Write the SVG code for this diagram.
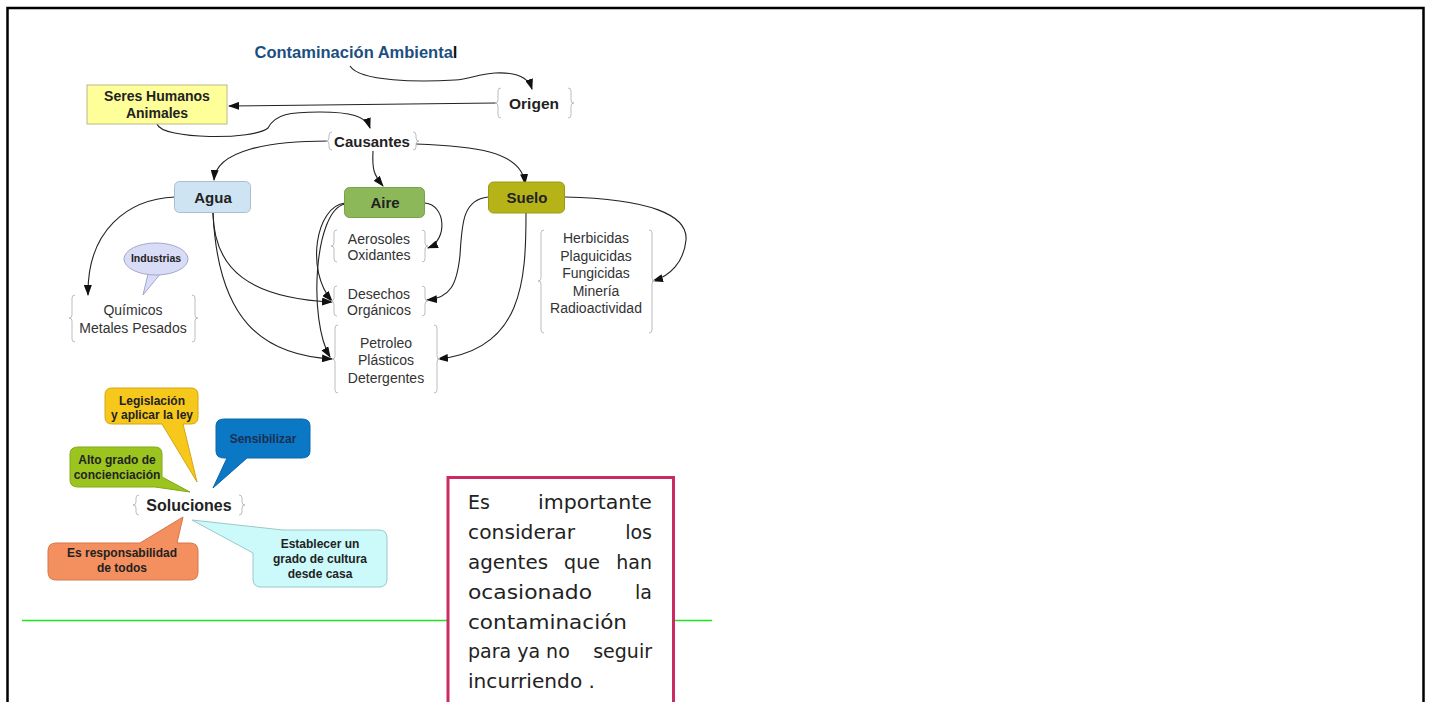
<svg xmlns="http://www.w3.org/2000/svg" width="1429" height="702" viewBox="0 0 1429 702">
<defs>
<marker id="ah" markerWidth="11" markerHeight="8" refX="10" refY="4" orient="auto" markerUnits="userSpaceOnUse">
<path d="M0,0 L11,4 L0,8 z" fill="#111"/>
</marker>
<style>
.c{fill:none;stroke:#222;stroke-width:1.1;marker-end:url(#ah)}
.br{fill:none;stroke:#bdbdbd;stroke-width:1}
.bt{font-family:"Liberation Sans",Arial,sans-serif;font-weight:bold;fill:#222;text-anchor:middle}
.rt{font-family:"Liberation Sans",Arial,sans-serif;font-size:14px;fill:#333;text-anchor:middle}
.pt{font-family:"DejaVu Sans",sans-serif;font-size:19px;fill:#222}
</style>
</defs>
<rect x="0" y="0" width="1429" height="702" fill="#fff"/>
<rect x="7.5" y="8" width="1416" height="720" fill="none" stroke="#000" stroke-width="2.5"/>
<line x1="22" y1="620.5" x2="712" y2="620.5" stroke="#1ee61e" stroke-width="1.3"/>

<g id="connectors">
<path class="c" d="M350,66 C360,82 420,82 455,80 C470,79 478,74 495,73 C515,72 528,76 532,89"/>
<path class="c" d="M496,103 L229,106"/>
<path class="c" d="M157,124 C162,140 255,140 268,128 C275,114 290,112 320,112 C350,112 366,116 370,128"/>
<path class="c" d="M328,141 C270,141 216,150 214,180"/>
<path class="c" d="M373,151 C372,170 374,175 383,186"/>
<path class="c" d="M416,144 C470,146 522,150 525,184"/>
<path class="c" d="M175,197 C128,199 87,230 88,295"/>
<path class="c" d="M213,213 C214,270 250,298 332,302"/>
<path class="c" d="M213,213 C218,320 262,355 332,359"/>
<path class="c" d="M425,203 C446,205 448,240 428,248"/>
<path class="c" d="M345,203 C316,206 305,270 332,301"/>
<path class="c" d="M345,204 C314,210 308,320 330,357"/>
<path class="c" d="M488,197 C462,200 462,225 460,255 C457,285 450,298 427,300"/>
<path class="c" d="M526,213 C526,280 523,350 438,359"/>
<path class="c" d="M565,197 C650,199 688,215 686,240 C684,262 670,276 653,281"/>
</g>

<g id="title"><text x="356" y="58" class="bt" style="font-size:16.5px;fill:#1c4f80">Contaminación Ambienta<tspan fill="#111">l</tspan></text></g>

<g id="seres">
<rect x="87" y="85" width="140" height="39" fill="#ffff99" stroke="#b8b88a" stroke-width="1"/>
<text x="157" y="101" class="bt" style="font-size:14px">Seres Humanos</text>
<text x="157" y="118" class="bt" style="font-size:14px">Animales</text>
</g>

<g id="origen">
<path class="br" d="M501,88 Q498,88 498,91 L498,100 Q498,103 495,103 Q498,103 498,106 L498,115 Q498,118 501,118"/>
<path class="br" d="M568,88 Q571,88 571,91 L571,100 Q571,103 574,103 Q571,103 571,106 L571,115 Q571,118 568,118"/>
<text x="534" y="109" class="bt" style="font-size:15.5px">Origen</text>
</g>

<g id="causantes">
<path class="br" d="M332,132 Q329,132 329,135 L329,138 Q329,141 326,141 Q329,141 329,144 L329,147 Q329,150 332,150"/>
<path class="br" d="M413,132 Q416,132 416,135 L416,138 Q416,141 419,141 Q416,141 416,144 L416,147 Q416,150 413,150"/>
<text x="372" y="147" class="bt" style="font-size:15px">Causantes</text>
</g>

<g id="agua">
<rect x="174.5" y="181.5" width="76" height="31" rx="5" fill="#cfe4f3" stroke="#a9bfd0" stroke-width="1"/>
<text x="213" y="203" class="bt" style="font-size:15px">Agua</text>
</g>

<g id="aire">
<rect x="344.5" y="187.5" width="80" height="30" rx="5" fill="#8cb85a" stroke="#79a04c" stroke-width="1"/>
<text x="385" y="208" class="bt" style="font-size:15px">Aire</text>
</g>

<g id="suelo">
<rect x="488.5" y="182" width="76" height="31" rx="5" fill="#b6b318" stroke="#9c9a14" stroke-width="1"/>
<text x="527" y="203" class="bt" style="font-size:15px">Suelo</text>
</g>

<g id="aerosoles">
<path class="br" d="M337,230 Q334,230 334,233 L334,243 Q334,246 331,246 Q334,246 334,249 L334,259 Q334,262 337,262"/>
<path class="br" d="M422,230 Q425,230 425,233 L425,243 Q425,246 428,246 Q425,246 425,249 L425,259 Q425,262 422,262"/>
<text x="379" y="244" class="rt">Aerosoles</text>
<text x="379" y="260" class="rt">Oxidantes</text>
</g>

<g id="desechos">
<path class="br" d="M337,286 Q334,286 334,289 L334,298 Q334,301 331,301 Q334,301 334,304 L334,313 Q334,316 337,316"/>
<path class="br" d="M422,286 Q425,286 425,289 L425,298 Q425,301 428,301 Q425,301 425,304 L425,313 Q425,316 422,316"/>
<text x="379" y="299" class="rt">Desechos</text>
<text x="379" y="315" class="rt">Orgánicos</text>
</g>

<g id="petroleo">
<path class="br" d="M338,325 Q335,325 335,328 L335,356 Q335,359 332,359 Q335,359 335,362 L335,390 Q335,393 338,393"/>
<path class="br" d="M434,325 Q437,325 437,328 L437,356 Q437,359 440,359 Q437,359 437,362 L437,390 Q437,393 434,393"/>
<text x="386" y="348" class="rt">Petroleo</text>
<text x="386" y="365" class="rt">Plásticos</text>
<text x="386" y="383" class="rt">Detergentes</text>
</g>

<g id="herbicidas">
<path class="br" d="M544,230 Q541,230 541,233 L541,278 Q541,281 538,281 Q541,281 541,284 L541,330 Q541,333 544,333"/>
<path class="br" d="M649,230 Q652,230 652,233 L652,278 Q652,281 655,281 Q652,281 652,284 L652,330 Q652,333 649,333"/>
<text x="596" y="243" class="rt">Herbicidas</text>
<text x="596" y="261" class="rt">Plaguicidas</text>
<text x="596" y="278" class="rt">Fungicidas</text>
<text x="596" y="296" class="rt">Minería</text>
<text x="596" y="313" class="rt">Radioactividad</text>
</g>

<g id="quimicos">
<path class="br" d="M75,295 Q72,295 72,298 L72,315 Q72,318 69,318 Q72,318 72,321 L72,339 Q72,342 75,342"/>
<path class="br" d="M192,295 Q195,295 195,298 L195,315 Q195,318 198,318 Q195,318 195,321 L195,339 Q195,342 192,342"/>
<text x="133" y="315" class="rt">Químicos</text>
<text x="133" y="333" class="rt">Metales Pesados</text>
</g>

<g id="industrias">
<path d="M148,274 L143,295 L161,273 Z" fill="#d9dcf6" stroke="#a4a8c8" stroke-width="1"/>
<ellipse cx="156" cy="259" rx="32" ry="16" fill="#d9dcf6" stroke="#a4a8c8" stroke-width="1"/>
<path d="M149,273 L160,273" stroke="#d9dcf6" stroke-width="2"/>
<text x="156" y="262" class="bt" style="font-size:10.5px">Industrias</text>
</g>

<g id="soluciones">
<path class="br" d="M139,495 Q136,495 136,498 L136,502 Q136,505 133,505 Q136,505 136,508 L136,512 Q136,515 139,515"/>
<path class="br" d="M239,495 Q242,495 242,498 L242,502 Q242,505 245,505 Q242,505 242,508 L242,512 Q242,515 239,515"/>
<text x="189" y="511" class="bt" style="font-size:16px">Soluciones</text>
</g>

<g id="legislacion">
<path d="M112,388 H191 Q198,388 198,395 V417 Q198,424 191,424 H183 L197,482 L162,424 H112 Q105,424 105,417 V395 Q105,388 112,388 Z" fill="#f6c81c" stroke="#d4a614" stroke-width="1"/>
<text x="152" y="405" class="bt" style="font-size:12px">Legislación</text>
<text x="152" y="419" class="bt" style="font-size:12px">y aplicar la ley</text>
</g>

<g id="sensibilizar">
<path d="M224,419 H302 Q310,419 310,426 V451 Q310,458 302,458 H247 L213,488 L227,458 H224 Q216,458 216,451 V426 Q216,419 224,419 Z" fill="#0b78c6" stroke="#0a66a8" stroke-width="1"/>
<text x="263" y="443" class="bt" style="font-size:12px;fill:#1b2f52">Sensibilizar</text>
</g>

<g id="alto">
<path d="M78,447 H155 Q162,447 162,454 V477 L190,492 L155,487 H78 Q70,487 70,480 V454 Q70,447 78,447 Z" fill="#9cc41e" stroke="#84a818" stroke-width="1"/>
<text x="117" y="464" class="bt" style="font-size:12px">Alto grado de</text>
<text x="117" y="479" class="bt" style="font-size:12px">concienciación</text>
</g>

<g id="responsabilidad">
<path d="M56,543 H140 L183,517 L177,543 H190 Q198,543 198,551 V572 Q198,580 190,580 H56 Q48,580 48,572 V551 Q48,543 56,543 Z" fill="#f48f5f" stroke="#d4774a" stroke-width="1"/>
<text x="122" y="557" class="bt" style="font-size:12px">Es responsabilidad</text>
<text x="122" y="572" class="bt" style="font-size:12px">de todos</text>
</g>

<g id="establecer">
<path d="M283,530 H379 Q387,530 387,538 V579 Q387,587 379,587 H261 Q253,587 253,579 V553 L192,520 Z" fill="#ccfafa" stroke="#9cc8c8" stroke-width="1"/>
<text x="320" y="548" class="bt" style="font-size:12px">Establecer un</text>
<text x="320" y="563" class="bt" style="font-size:12px">grado de cultura</text>
<text x="320" y="578" class="bt" style="font-size:12px">desde casa</text>
</g>

<g id="nota">
<rect x="448" y="477.5" width="225.5" height="240" fill="#fff" stroke="#cc2a64" stroke-width="3"/>
<text x="468" y="509" class="pt">Es</text>
<text x="538" y="509" class="pt" textLength="114" lengthAdjust="spacingAndGlyphs">importante</text>
<text x="468" y="539" class="pt" textLength="107" lengthAdjust="spacingAndGlyphs">considerar</text>
<text x="652" y="539" class="pt" text-anchor="end">los</text>
<text x="468" y="569" class="pt" textLength="80" lengthAdjust="spacingAndGlyphs">agentes</text>
<text x="582" y="569" class="pt" text-anchor="middle">que</text>
<text x="652" y="569" class="pt" text-anchor="end">han</text>
<text x="468" y="599" class="pt" textLength="124" lengthAdjust="spacingAndGlyphs">ocasionado</text>
<text x="652" y="599" class="pt" text-anchor="end">la</text>
<text x="468" y="629" class="pt" textLength="159" lengthAdjust="spacingAndGlyphs">contaminación</text>
<text x="468" y="658" class="pt">para ya no</text>
<text x="652" y="658" class="pt" text-anchor="end">seguir</text>
<text x="468" y="688" class="pt" textLength="127" lengthAdjust="spacingAndGlyphs">incurriendo .</text>
</g>
</svg>
